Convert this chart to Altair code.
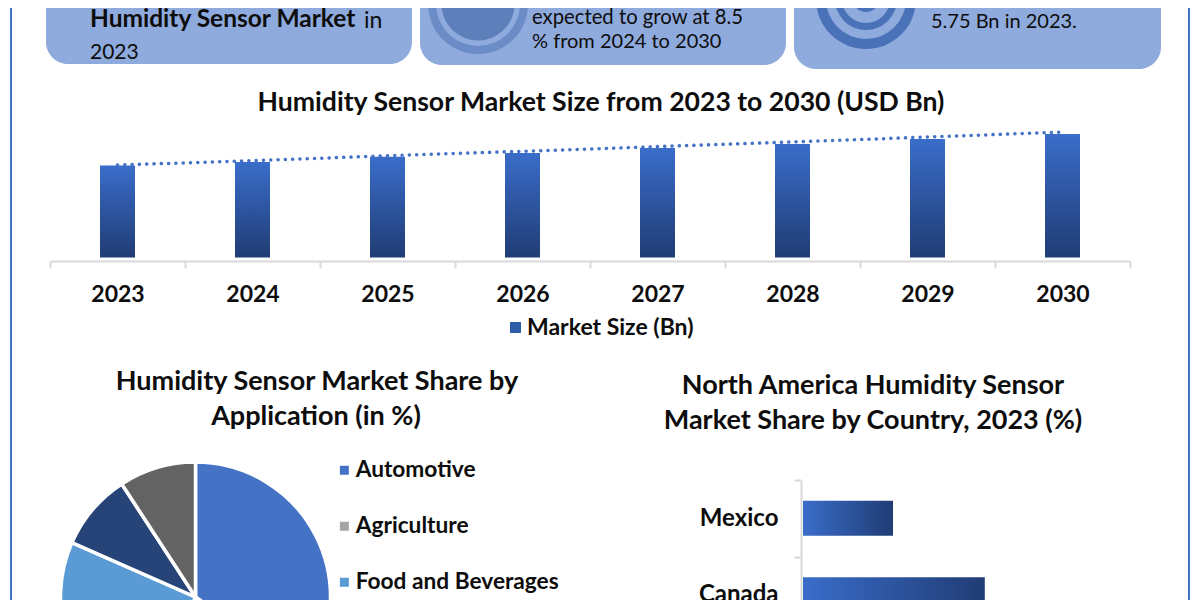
import altair as alt
import pandas as pd

# ---- data
years = ["2023", "2024", "2025", "2026", "2027", "2028", "2029", "2030"]
market_size = [5.75, 5.97, 6.30, 6.53, 6.84, 7.09, 7.40, 7.72]
trend_size = [5.78, 6.05, 6.36, 6.64, 6.93, 7.22, 7.53, 7.84]
series_name = ["Market Size (Bn)"]
apps = ["Automotive", "Agriculture", "Food and Beverages", "Category 4", "Category 5"]
app_share = [35, 21.6, 25, 9.2, 9.2]
countries = ["Mexico", "Canada"]
country_share = [10, 20.2]

BLUE, GREY, SKY, NAVY, DARK = "#4472c4", "#a5a5a5", "#5b9bd5", "#264478", "#636363"
PANEL = "#8faadc"
FONT = "Lato"
INK = "#0d0d0d"
one = pd.DataFrame({"k": [0]})


def X(v):
    return v - 8


def Y(v):
    return v - 8


def rect(x0, x1, y0, y1, color, radius=0):
    return alt.Chart(one).mark_rect(color=color, cornerRadius=radius).encode(
        x=alt.value(X(x0)), x2=alt.value(X(x1)), y=alt.value(Y(y0)), y2=alt.value(Y(y1)))


def disk(cx, cy, r, color, theta=0.0, theta2=6.2832):
    return alt.Chart(one).mark_arc(color=color, outerRadius=r, innerRadius=0, theta=theta, theta2=theta2).encode(
        x=alt.value(X(cx)), y=alt.value(Y(cy)))


def label(txt, x, y, size, bold=False, align="left", color=INK):
    return alt.Chart(one).mark_text(
        text=txt, font=FONT, fontSize=size, fontWeight="bold" if bold else "normal",
        align=align, baseline="middle", color=color,
    ).encode(x=alt.value(X(x)), y=alt.value(Y(y)))


decor = [
    rect(10, 12, 0, 610, BLUE), rect(1188, 1190, 0, 610, BLUE),
    rect(46, 412, -40, 64, PANEL, 22),
    rect(420, 786, -40, 65, PANEL, 22),
    rect(794, 1161, -40, 69, PANEL, 22),
    disk(478, 4, 50, "#6c8cc8"), disk(478, 4, 42, PANEL), disk(478, 4, 36.5, "#5d7fba"),
    disk(478, 4, 36.5, PANEL, 4.7124, 6.2832),
    disk(866, -1, 50, "#4a72b8"), disk(866, -1, 40, PANEL), disk(866, -1, 31, "#4a72b8"),
    disk(866, -1, 24, PANEL), disk(866, -1, 13, "#4a72b8"),
]

texts = [
    label("Humidity Sensor Market", 90, 20, 24.5, True),
    label("in", 364, 21, 23),
    label("2023", 90, 53, 21),
    label("expected to grow at 8.5", 532, 18, 20.3),
    label("% from 2024 to 2030", 532, 42, 20),
    label("5.75 Bn in 2023.", 931, 22, 20),
    label("Humidity Sensor Market Size from 2023 to 2030 (USD Bn)", 601, 103, 26.6, True, "center"),
    label("Humidity Sensor Market Share by", 317, 382, 27, True, "center"),
    label("Application (in %)", 316, 417, 27, True, "center"),
    label("North America Humidity Sensor", 873, 386, 27, True, "center"),
    label("Market Share by Country, 2023 (%)", 873, 421, 27, True, "center"),
]

# ---- column chart
df_bar = pd.DataFrame({"year": years, "size": market_size, "trend": trend_size, "s": series_name * 8})
xscale = alt.Scale(domain=years, range=[X(50), X(1130)], paddingInner=0, paddingOuter=0)
yscale = alt.Scale(domain=[0, 10], range=[Y(257.5), Y(97.5)])
bar_fill = alt.Gradient(gradient="linear", x1=0, x2=0, y1=0, y2=1,
                        stops=[alt.GradientStop(color="#3a6dca", offset=0),
                               alt.GradientStop(color="#203c74", offset=1)])
H = 592
bars = alt.Chart(df_bar).mark_bar(size=35, color=bar_fill).encode(
    x=alt.X("year:N", scale=xscale, sort=years, title=None,
            axis=alt.Axis(offset=Y(261) - H, domainColor="#d9d9d9", domainWidth=2,
                          tickColor="#d9d9d9", tickWidth=2, tickSize=7, tickBand="extent",
                          grid=False, labelAngle=0, labelFont=FONT, labelFontWeight="bold",
                          labelFontSize=23, labelColor=INK, labelPadding=15)),
    y=alt.Y("size:Q", scale=yscale, axis=None),
)
trend = alt.Chart(df_bar).mark_line(color=BLUE, strokeWidth=3.5, strokeDash=[0.1, 7.2], strokeCap="round").encode(
    x=alt.X("year:N", scale=xscale, sort=years, axis=None),
    y=alt.Y("trend:Q", scale=yscale, axis=None),
)
bar_legend = alt.Chart(df_bar).mark_square(opacity=0).encode(
    color=alt.Color("s:N", scale=alt.Scale(domain=series_name, range=["#2f5ea8"]),
                    legend=alt.Legend(orient="none", legendX=X(504), legendY=Y(316), title=None,
                                      symbolType="square", symbolSize=120, symbolOpacity=1,
                                      labelFont=FONT, labelFontWeight="bold", labelFontSize=23,
                                      labelColor=INK, labelOffset=0, labelLimit=400)),
    x=alt.value(0), y=alt.value(0),
)

# ---- pie
df_pie = pd.DataFrame({"app": apps, "share": app_share, "o": range(len(apps))})
pie = alt.Chart(df_pie).mark_arc(outerRadius=135, stroke="white", strokeWidth=3.5).encode(
    theta=alt.Theta("share:Q", stack=True),
    order=alt.Order("o:O"),
    color=alt.Color("app:N", scale=alt.Scale(domain=apps, range=[BLUE, GREY, SKY, NAVY, DARK]),
                    legend=alt.Legend(orient="none", legendX=X(333), legendY=Y(459), title=None,
                                      values=apps[:3], symbolType="square", symbolSize=110,
                                      labelFont=FONT, labelFontWeight="bold", labelFontSize=22.7,
                                      labelColor=INK, labelOffset=0, rowPadding=32,
                                      labelLimit=400)),
    x=alt.value(X(195.5)), y=alt.value(Y(597)),
)

# ---- horizontal bars
df_h = pd.DataFrame({"country": countries, "share": country_share})
h_fill = alt.Gradient(gradient="linear", x1=0, x2=1, y1=0, y2=0,
                      stops=[alt.GradientStop(color="#3a6dca", offset=0),
                             alt.GradientStop(color="#203c74", offset=1)])
hbars = alt.Chart(df_h).mark_bar(size=35, color=h_fill).encode(
    x=alt.X("share:Q", scale=alt.Scale(domain=[0, 100], range=[X(803), X(1703)]), axis=None),
    y=alt.Y("country:N", sort=countries, title=None,
            scale=alt.Scale(domain=countries, range=[Y(480), Y(633)], paddingInner=0, paddingOuter=0),
            axis=alt.Axis(offset=-X(801), domainColor="#d9d9d9", domainWidth=2,
                          tickColor="#d9d9d9", tickWidth=2, tickSize=7, tickBand="extent",
                          grid=False, labelFont=FONT, labelFontWeight="bold", labelFontSize=24,
                          labelColor=INK, labelPadding=16)),
)

chart = alt.layer(*decor, *texts, bars, trend, bar_legend, pie, hbars).resolve_scale(
    x="independent", y="independent", color="independent", theta="independent",
).resolve_axis(x="independent", y="independent").resolve_legend(color="independent").properties(
    width=1184, height=H, padding=0, background="white",
    autosize=alt.AutoSizeParams(type="none"),
).configure_view(stroke=None)

chart.save("out.html", embed_options={"renderer": "svg", "actions": False})
